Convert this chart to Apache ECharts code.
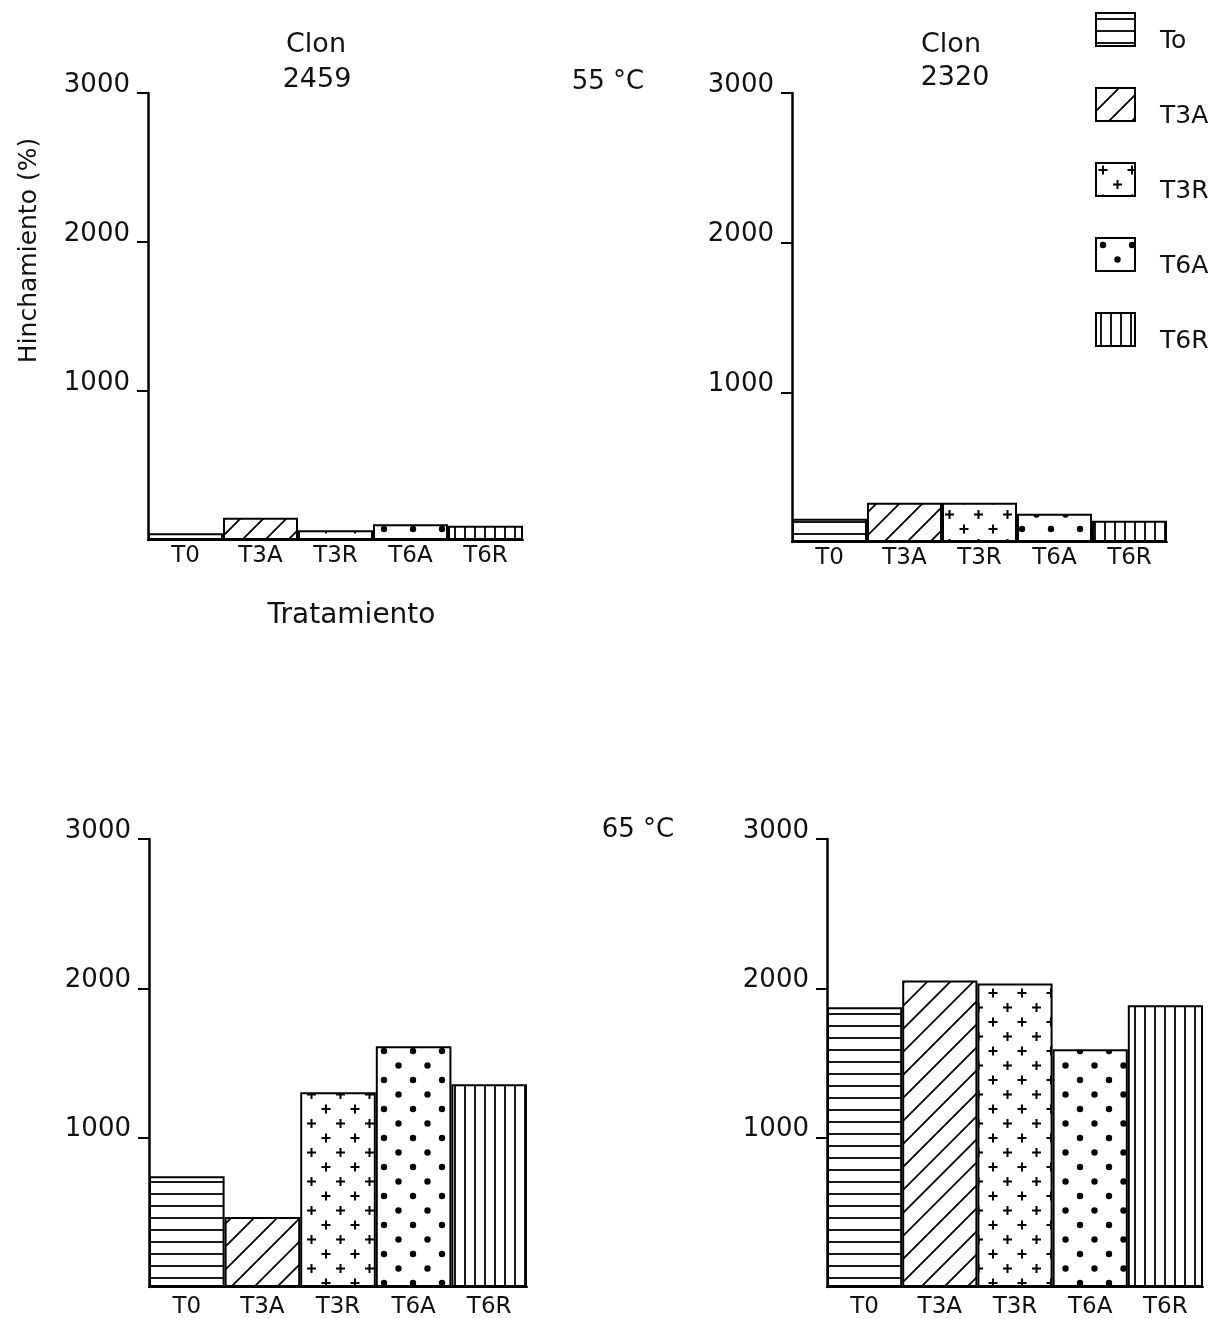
<!DOCTYPE html>
<html>
<head>
<meta charset="utf-8">
<title>Hinchamiento por tratamiento</title>
<script src="https://cdn.jsdelivr.net/npm/echarts@6/dist/echarts.min.js"></script>
<style>
  html, body { margin: 0; padding: 0; background: #fff; }
  #chart { width: 1221px; height: 1319px; }
</style>
</head>
<body>
<div id="chart"></div>
<script>
// Treatments on the x axis and their legend labels
const categories = ['T0', 'T3A', 'T3R', 'T6A', 'T6R'];
const legendNames = ['To', 'T3A', 'T3R', 'T6A', 'T6R'];

// Swelling (%) per treatment, for each clone and temperature
const clon2459at55 = [45, 150, 65, 105, 95];
const clon2320at55 = [155, 262, 262, 188, 142];
const clon2459at65 = [742, 468, 1304, 1612, 1358];
const clon2320at65 = [1873, 2053, 2033, 1592, 1886];

// Value-axis ticks
const yTicks = [1000, 2000, 3000];
const yMax = 3000;

const panelValues = [clon2459at55, clon2320at55, clon2459at65, clon2320at65];

// Plot areas of the four panels
const grids = [
  { left: 148, top: 93, width: 375, height: 447 },
  { left: 792, top: 93, width: 375, height: 449 },
  { left: 149, top: 839, width: 378, height: 448 },
  { left: 827, top: 839, width: 376, height: 448 }
];

// Hatch fills, one per treatment
function makeTile(w, h, draw) {
  const c = document.createElement('canvas');
  c.width = w; c.height = h;
  const ctx = c.getContext('2d');
  ctx.fillStyle = '#fff';
  ctx.fillRect(0, 0, w, h);
  ctx.strokeStyle = '#000';
  ctx.fillStyle = '#000';
  draw(ctx, w, h);
  return { image: c, repeat: 'repeat' };
}

const patterns = [
  // horizontal lines
  makeTile(12, 12, (ctx, w, h) => {
    ctx.lineWidth = 1.8;
    ctx.beginPath(); ctx.moveTo(0, 6); ctx.lineTo(w, 6); ctx.stroke();
  }),
  // diagonal lines
  makeTile(23, 23, (ctx, w, h) => {
    ctx.lineWidth = 1.8;
    ctx.beginPath();
    ctx.moveTo(-1, h + 1); ctx.lineTo(w + 1, -1);
    ctx.moveTo(-2, 2); ctx.lineTo(2, -2);
    ctx.moveTo(w - 2, h + 2); ctx.lineTo(w + 2, h - 2);
    ctx.stroke();
  }),
  // staggered plus signs
  makeTile(29, 29, (ctx, w, h) => {
    ctx.lineWidth = 2;
    const plus = (x, y) => {
      ctx.beginPath();
      ctx.moveTo(x - 4.5, y); ctx.lineTo(x + 4.5, y);
      ctx.moveTo(x, y - 4.5); ctx.lineTo(x, y + 4.5);
      ctx.stroke();
    };
    plus(7, 7); plus(21.5, 21.5);
  }),
  // staggered dots
  makeTile(29, 29, (ctx, w, h) => {
    const dot = (x, y) => { ctx.beginPath(); ctx.arc(x, y, 3.2, 0, Math.PI * 2); ctx.fill(); };
    dot(7, 7); dot(21.5, 21.5);
  }),
  // vertical lines
  makeTile(10, 10, (ctx, w, h) => {
    ctx.lineWidth = 1.8;
    ctx.beginPath(); ctx.moveTo(5, 0); ctx.lineTo(5, h); ctx.stroke();
  })
];

const FONT = 'DejaVu Sans';
const INK = '#111';

const xAxes = grids.map((g, k) => ({
  type: 'category',
  gridIndex: k,
  data: categories,
  axisTick: { show: false },
  axisLine: { show: true, lineStyle: { color: '#000', width: 2 } },
  axisLabel: { color: INK, fontFamily: FONT, fontSize: 23, margin: k < 2 ? 5 : 9 },
  splitLine: { show: false },
  name: k === 0 ? 'Tratamiento' : '',
  nameLocation: 'middle',
  nameGap: 62,
  nameTextStyle: { color: INK, fontFamily: FONT, fontSize: 28, padding: [0, 0, 0, 32] }
}));

const yAxes = grids.map((g, k) => ({
  type: 'value',
  gridIndex: k,
  min: 0,
  max: yMax,
  interval: 1000,
  axisLine: { show: true, lineStyle: { color: '#000', width: 2.5 } },
  axisTick: { show: true, length: 11, lineStyle: { color: '#000', width: 2 }, customValues: yTicks },
  axisLabel: {
    color: INK, fontFamily: FONT, fontSize: 26, margin: 18,
    verticalAlign: 'bottom', lineHeight: 16, customValues: yTicks,
    formatter: v => (v === 0 ? '' : String(v))
  },
  splitLine: { show: false },
  name: k === 0 ? 'Hinchamiento (%)' : '',
  nameLocation: 'middle',
  nameRotate: 90,
  nameGap: 106,
  nameTextStyle: { color: INK, fontFamily: FONT, fontSize: 25, padding: [0, 0, 0, 132] }
}));

// One bar series per treatment and panel; bars overlap fully so each
// category shows a single full-width bar in its treatment's hatch
const series = [];
panelValues.forEach((values, k) => {
  legendNames.forEach((name, i) => {
    series.push({
      type: 'bar',
      name: name,
      xAxisIndex: k,
      yAxisIndex: k,
      barGap: '-100%',
      barCategoryGap: '0%',
      data: categories.map((c, j) => (j === i ? values[j] : '-')),
      itemStyle: { color: patterns[i], borderColor: '#000', borderWidth: 2 },
      emphasis: { disabled: true }
    });
  });
});

const textStyle = (size) => ({ fill: INK, font: size + 'px "' + FONT + '"', align: 'center', verticalAlign: 'middle' });

const option = {
  backgroundColor: '#fff',
  animation: false,
  grid: grids.map(g => Object.assign({ containLabel: false }, g)),
  xAxis: xAxes,
  yAxis: yAxes,
  series: series,
  legend: {
    data: legendNames,
    orient: 'vertical',
    left: 1090,
    top: 7,
    itemWidth: 39,
    itemHeight: 33,
    itemGap: 33,
    icon: 'rect',
    selectedMode: false,
    itemStyle: { borderColor: '#000', borderWidth: 2 },
    formatter: name => '{t|' + name + '}',
    textStyle: {
      color: INK, fontFamily: FONT, fontSize: 25,
      rich: { t: { color: INK, fontFamily: FONT, fontSize: 25, padding: [24, 0, 0, 20] } }
    }
  },
  graphic: [
    { type: 'text', x: 316, y: 45, style: Object.assign({ text: 'Clon' }, textStyle(27)) },
    { type: 'text', x: 317, y: 80, style: Object.assign({ text: '2459' }, textStyle(27)) },
    { type: 'text', x: 608, y: 82, style: Object.assign({ text: '55 °C' }, textStyle(26)) },
    { type: 'text', x: 951, y: 45, style: Object.assign({ text: 'Clon' }, textStyle(27)) },
    { type: 'text', x: 955, y: 78, style: Object.assign({ text: '2320' }, textStyle(27)) },
    { type: 'text', x: 638, y: 830, style: Object.assign({ text: '65 °C' }, textStyle(26)) }
  ]
};

const chart = echarts.init(document.getElementById('chart'), null, { renderer: 'canvas' });
chart.setOption(option);
</script>
</body>
</html>
